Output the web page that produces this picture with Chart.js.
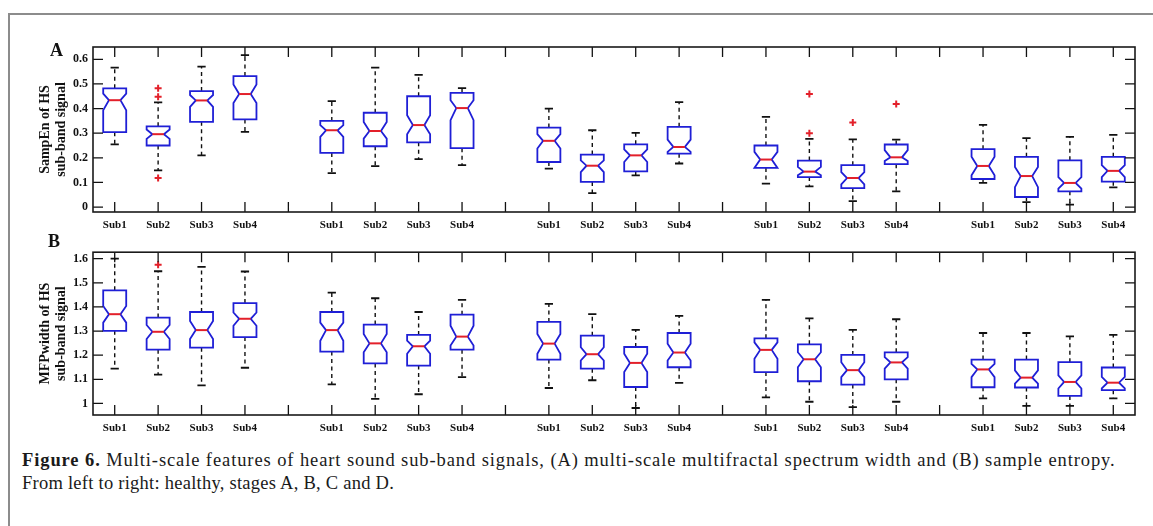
<!DOCTYPE html>
<html><head><meta charset="utf-8">
<script src="https://cdn.jsdelivr.net/npm/chart.js@4.4.0/dist/chart.umd.min.js"></script>
<style>
html,body{margin:0;padding:0;background:#fff;width:1153px;height:526px;overflow:hidden;position:relative;font-family:'Liberation Serif',serif;}
#frame{position:absolute;left:8px;top:13px;width:1300px;height:700px;border-top:2px solid #8c8c8c;border-left:2px solid #8c8c8c;}
.wrap{position:absolute;left:0;width:1153px;}
#wa{top:0;height:240px}
#wb{top:240px;height:200px}
.pl{position:absolute;font:bold 18px 'Liberation Serif',serif;color:#111;}
#cap{position:absolute;left:22px;top:449px;font-size:18.5px;line-height:23px;color:#1a1a1a;}
#cap1{letter-spacing:0.9px;white-space:nowrap;}
#cap2{letter-spacing:0.25px;white-space:nowrap;}
</style></head>
<body>
<div id="frame"></div>
<div class="wrap" id="wa"><canvas id="ca"></canvas></div>
<div class="wrap" id="wb"><canvas id="cb"></canvas></div>
<div class="pl" style="left:50px;top:40px">A</div>
<div class="pl" style="left:48px;top:231px">B</div>
<div id="cap"><div id="cap1"><b>Figure 6.</b> Multi-scale features of heart sound sub-band signals, (A) multi-scale multifractal spectrum width and (B) sample entropy.</div><div id="cap2">From left to right: healthy, stages A, B, C and D.</div></div>
<script>
// ---------- data ----------
const categories = ['Sub1','Sub2','Sub3','Sub4'];
const groups = ['Healthy','Stage A','Stage B','Stage C','Stage D'];

const yTicksA = [0, 0.1, 0.2, 0.3, 0.4, 0.5, 0.6];
const yTickLabelsA = ['0','0.1','0.2','0.3','0.4','0.5','0.6'];
const yTicksB = [1, 1.1, 1.2, 1.3, 1.4, 1.5, 1.6];
const yTickLabelsB = ['1','1.1','1.2','1.3','1.4','1.5','1.6'];

// Panel A: SampEn (order: group by group, Sub1..Sub4)
const aWhiskerHi = [0.566,0.425,0.570,0.617, 0.430,0.566,0.537,0.483, 0.400,0.312,0.301,0.426, 0.366,0.277,0.275,0.274, 0.334,0.280,0.285,0.293];
const aQ3        = [0.482,0.328,0.471,0.532, 0.350,0.383,0.450,0.464, 0.323,0.213,0.255,0.326, 0.250,0.189,0.170,0.254, 0.235,0.204,0.190,0.204];
const aNotchHi   = [0.461,0.315,0.455,0.498, 0.333,0.346,0.373,0.434, 0.296,0.190,0.234,0.274, 0.224,0.163,0.142,0.231, 0.204,0.163,0.122,0.170];
const aMedian    = [0.434,0.296,0.433,0.459, 0.312,0.309,0.333,0.402, 0.269,0.168,0.210,0.244, 0.193,0.144,0.118,0.202, 0.167,0.126,0.098,0.147];
const aNotchLo   = [0.393,0.277,0.407,0.423, 0.285,0.278,0.296,0.353, 0.238,0.142,0.183,0.224, 0.159,0.129,0.092,0.187, 0.129,0.081,0.075,0.122];
const aQ1        = [0.304,0.250,0.346,0.356, 0.220,0.247,0.263,0.239, 0.183,0.102,0.145,0.217, 0.159,0.122,0.077,0.174, 0.114,0.041,0.064,0.103];
const aWhiskerLo = [0.255,0.149,0.210,0.305, 0.138,0.166,0.195,0.170, 0.156,0.057,0.129,0.177, 0.095,0.084,0.024,0.064, 0.098,0.020,0.010,0.080];
const aOutlierBox   = [1, 1, 1, 13, 13, 14, 15];
const aOutlierValue = [0.482, 0.448, 0.118, 0.459, 0.300, 0.343, 0.419];

// Panel B: MFPwidth
const bWhiskerHi = [1.600,1.548,1.566,1.547, 1.459,1.436,1.379,1.429, 1.413,1.370,1.305,1.363, 1.429,1.353,1.305,1.349, 1.292,1.292,1.278,1.284];
const bQ3        = [1.469,1.356,1.379,1.416, 1.379,1.327,1.284,1.368, 1.338,1.281,1.234,1.292, 1.270,1.245,1.201,1.212, 1.182,1.182,1.171,1.149];
const bNotchHi   = [1.404,1.325,1.342,1.377, 1.335,1.288,1.260,1.322, 1.288,1.233,1.206,1.247, 1.253,1.212,1.171,1.192, 1.164,1.137,1.116,1.110];
const bMedian    = [1.370,1.297,1.304,1.351, 1.304,1.249,1.237,1.277, 1.248,1.204,1.168,1.211, 1.222,1.183,1.138,1.170, 1.141,1.107,1.089,1.086];
const bNotchLo   = [1.335,1.267,1.267,1.322, 1.260,1.212,1.206,1.240, 1.206,1.178,1.130,1.178, 1.185,1.150,1.109,1.144, 1.109,1.082,1.062,1.062];
const bQ1        = [1.301,1.223,1.231,1.275, 1.215,1.166,1.157,1.223, 1.182,1.144,1.068,1.150, 1.130,1.092,1.078,1.100, 1.067,1.066,1.031,1.055];
const bWhiskerLo = [1.144,1.119,1.075,1.148, 1.079,1.019,1.038,1.109, 1.064,1.096,0.981,1.085, 1.025,1.007,0.985,1.007, 1.021,0.990,0.990,1.021];
const bOutlierBox   = [1];
const bOutlierValue = [1.575];

// ---------- layout helpers ----------
const FONT = "'Liberation Serif', 'Times New Roman', serif";
const nSlots = groups.length * (categories.length + 1) - 1; // 24 tick slots
const slotPositions = Array.from({length: nSlots}, (_, i) => i + 1);
const slotLabels = slotPositions.map(p => { const r = (p - 1) % (categories.length + 1); return r < categories.length ? categories[r] : ''; });
const boxPositions = [];
groups.forEach((g, gi) => categories.forEach((c, ci) => boxPositions.push(gi * (categories.length + 1) + ci + 1)));

const BOX_HALF = 0.265, CAP_HALF = 0.095;
const BLUE = '#1f1fd6', RED = '#e3202a';

function boxPlugin(stats) {
  return {
    id: 'notchedBoxes',
    beforeDatasetsDraw(chart) {
      const {ctx, scales: {x, y}} = chart;
      const hw = x.getPixelForValue(1 + BOX_HALF) - x.getPixelForValue(1);
      const cw = x.getPixelForValue(1 + CAP_HALF) - x.getPixelForValue(1);
      ctx.save();
      boxPositions.forEach((p, i) => {
        const cx = x.getPixelForValue(p);
        const Y = v => y.getPixelForValue(v);
        // whiskers
        ctx.strokeStyle = '#111'; ctx.lineWidth = 1.4; ctx.setLineDash([4, 3.5]);
        ctx.beginPath();
        ctx.moveTo(cx, Y(stats.q3[i])); ctx.lineTo(cx, Y(stats.wHi[i]));
        ctx.moveTo(cx, Y(stats.q1[i])); ctx.lineTo(cx, Y(stats.wLo[i]));
        ctx.stroke();
        ctx.setLineDash([]); ctx.lineWidth = 1.8;
        ctx.beginPath();
        ctx.moveTo(cx - cw, Y(stats.wHi[i])); ctx.lineTo(cx + cw, Y(stats.wHi[i]));
        ctx.moveTo(cx - cw, Y(stats.wLo[i])); ctx.lineTo(cx + cw, Y(stats.wLo[i]));
        ctx.stroke();
        // notched box
        ctx.strokeStyle = BLUE; ctx.lineWidth = 1.8;
        ctx.beginPath();
        ctx.moveTo(cx - hw, Y(stats.q3[i]));
        ctx.lineTo(cx + hw, Y(stats.q3[i]));
        ctx.lineTo(cx + hw, Y(stats.nHi[i]));
        ctx.lineTo(cx + hw / 2, Y(stats.med[i]));
        ctx.lineTo(cx + hw, Y(stats.nLo[i]));
        ctx.lineTo(cx + hw, Y(stats.q1[i]));
        ctx.lineTo(cx - hw, Y(stats.q1[i]));
        ctx.lineTo(cx - hw, Y(stats.nLo[i]));
        ctx.lineTo(cx - hw / 2, Y(stats.med[i]));
        ctx.lineTo(cx - hw, Y(stats.nHi[i]));
        ctx.closePath();
        ctx.stroke();
        // median
        ctx.strokeStyle = RED; ctx.lineWidth = 2;
        ctx.beginPath();
        ctx.moveTo(cx - hw / 2, Y(stats.med[i])); ctx.lineTo(cx + hw / 2, Y(stats.med[i]));
        ctx.stroke();
      });
      ctx.restore();
    },
    afterDraw(chart) {
      const {ctx, chartArea: a, scales: {x, y}} = chart;
      ctx.save();
      ctx.strokeStyle = '#111'; ctx.lineWidth = 1.3;
      ctx.beginPath();
      x.ticks.forEach(t => {
        const px = x.getPixelForValue(t.value);
        ctx.moveTo(px, a.bottom); ctx.lineTo(px, a.bottom - 10);
        ctx.moveTo(px, a.top); ctx.lineTo(px, a.top + 10);
      });
      y.ticks.forEach(t => {
        const py = y.getPixelForValue(t.value);
        ctx.moveTo(a.left, py); ctx.lineTo(a.left + 10, py);
        ctx.moveTo(a.right, py); ctx.lineTo(a.right - 10, py);
      });
      ctx.stroke();
      ctx.lineWidth = 1.6; ctx.strokeStyle = '#1a1a1a';
      ctx.strokeRect(a.left, a.top, a.right - a.left, a.bottom - a.top);
      ctx.restore();
    }
  };
}

function makeChart(id, stats, outBox, outVal, yTicks, yLabels, yMin, yMax, title, padTop, xHeight) {
  const pts = outBox.map((b, k) => ({x: boxPositions[b], y: outVal[k]}));
  return new Chart(document.getElementById(id), {
    type: 'scatter',
    data: {datasets: [{data: pts, pointStyle: 'cross', radius: 3.5, borderColor: RED, backgroundColor: RED, borderWidth: 2}]},
    options: {
      responsive: true, maintainAspectRatio: false, animation: false,
      layout: {padding: {top: padTop, right: 18, left: 0, bottom: 0}},
      plugins: {legend: {display: false}, tooltip: {enabled: false}},
      scales: {
        x: {
          type: 'linear', min: 0.5, max: nSlots + 0.5,
          afterFit(s) { s.height = xHeight; },
          afterBuildTicks(s) { s.ticks = slotPositions.map(v => ({value: v})); },
          ticks: {callback: (v, i) => slotLabels[i], color: '#111', padding: 7, maxRotation: 0, autoSkip: false,
                  font: {family: FONT, size: 11, weight: 'bold'}},
          grid: {display: false, drawTicks: false}, border: {display: false}
        },
        y: {
          min: yMin, max: yMax,
          afterFit(s) { s.width = 93; },
          afterBuildTicks(s) { s.ticks = yTicks.map(v => ({value: v})); },
          ticks: {callback: (v, i) => yLabels[i], color: '#111', padding: 5,
                  font: {family: FONT, size: 12, weight: 'bold'}},
          title: {display: true, text: title, color: '#111', padding: {top: 36.6, bottom: 0},
                  font: {family: FONT, size: 14, weight: 'bold', lineHeight: 1.19}},
          grid: {display: false, drawTicks: false}, border: {display: false}
        }
      }
    },
    plugins: [boxPlugin(stats)]
  });
}

makeChart('ca', {wHi: aWhiskerHi, q3: aQ3, nHi: aNotchHi, med: aMedian, nLo: aNotchLo, q1: aQ1, wLo: aWhiskerLo},
  aOutlierBox, aOutlierValue, yTicksA, yTickLabelsA, -0.02, 0.65, ['SampEn of HS', 'sub-band signal'], 47, 28);
makeChart('cb', {wHi: bWhiskerHi, q3: bQ3, nHi: bNotchHi, med: bMedian, nLo: bNotchLo, q1: bQ1, wLo: bWhiskerLo},
  bOutlierBox, bOutlierValue, yTicksB, yTickLabelsB, 0.952, 1.627, ['MFPwidth of HS', 'sub-band signal'], 11, 25);
</script>
</body></html>
